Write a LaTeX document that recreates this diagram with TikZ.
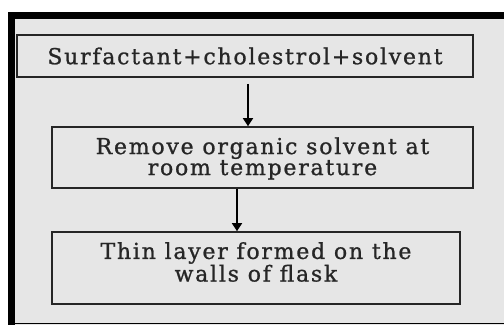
\documentclass[tikz,border=0pt]{standalone}
\usepackage{fontspec}
\setmainfont{DejaVu Serif}[LetterSpace=8, FakeBold=1]
\usetikzlibrary{arrows.meta}
\definecolor{bgc}{RGB}{230,230,230}
\tikzset{
  stepbox/.style={draw=black!85, line width=1.6pt, fill=bgc, inner sep=0pt},
  lbl/.style={align=center, font=\fontsize{22}{21}\selectfont, inner sep=0pt, text=black!85},
  arr/.style={line width=1.6pt, -{Triangle[width=10pt,length=8pt]}}
}
\begin{document}
\begin{tikzpicture}[x=1pt,y=-1pt]
\useasboundingbox (0,0) rectangle (504,326);
\fill[white] (0,0) rectangle (504,326);
\fill[bgc] (8,12) rectangle (504,325);
\fill[black] (8,12) rectangle (504,19);
\fill[black] (8,12) rectangle (15,325);
\draw[line width=1.5pt] (8,323.5) -- (504,323.5);
\node[stepbox, minimum width=456pt, minimum height=42pt] (b1) at (245,56) {};
\node[lbl] (t1) at (b1.center) {Surfactant+cholestrol+solvent};
\node[stepbox, minimum width=421pt, minimum height=61pt] (b2) at (262.5,157.5) {};
\node[lbl] (t2) at ([yshift=-1pt]b2.center) {Remove organic solvent at\\room temperature};
\node[stepbox, minimum width=408pt, minimum height=72pt] (b3) at (256,268) {};
\node[lbl] (t3) at ([yshift=6pt]b3.center) {Thin layer formed on the\\walls of flask};
\coordinate (x1) at (248,0);
\coordinate (x2) at (237,0);
\draw[arr, shorten <=6pt] (b1.south -| x1) -- (b2.north -| x1);
\draw[arr] (b2.south -| x2) -- (b3.north -| x2);
\end{tikzpicture}
\end{document}
